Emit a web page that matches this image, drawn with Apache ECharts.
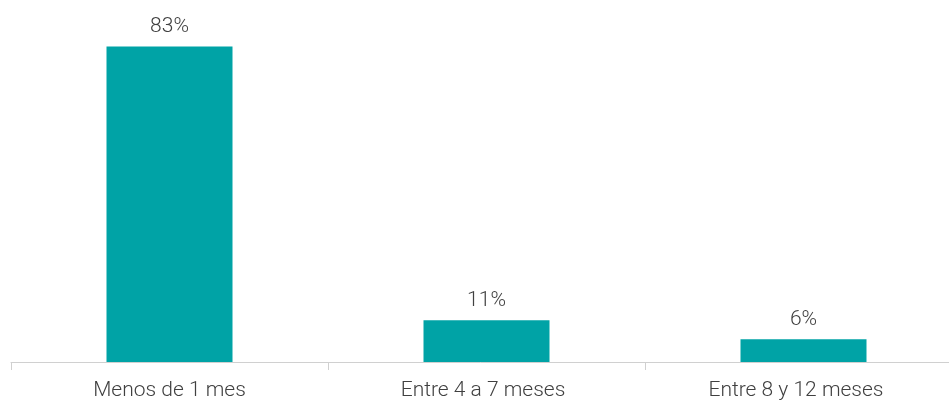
<!DOCTYPE html>
<html>
<head>
<meta charset="utf-8">
<script src="https://cdn.jsdelivr.net/npm/echarts@6/dist/echarts.min.js"></script>
<style>
  html, body { margin: 0; padding: 0; background: #fff; }
  #chart { width: 949px; height: 401px; }
</style>
</head>
<body>
<div id="chart"></div>
<script>
  // categorias y valores (%)
  const categories = ['Menos de 1 mes', 'Entre 4 a 7 meses', 'Entre 8 y 12 meses'];
  const values = [83, 11, 6];

  const labelFont = { fontFamily: 'Roboto', fontWeight: 300, fontSize: 21, color: '#404040' };

  const chart = echarts.init(document.getElementById('chart'));
  const option = {
    animation: false,
    grid: { left: 11, width: 951, top: 20, height: 342, containLabel: false, outerBoundsMode: 'none' },
    xAxis: {
      type: 'category',
      data: categories,
      axisLine: { lineStyle: { color: '#d0d0d0', width: 1 } },
      axisTick: { show: true, length: 8, lineStyle: { color: '#d0d0d0' } },
      axisLabel: Object.assign({
        margin: 18,
        formatter: (v, i) => '{c' + i + '|' + v + '}',
        rich: {
          c0: Object.assign({}, labelFont),
          c1: Object.assign({ padding: [0, 7, 0, 0] }, labelFont),
          c2: Object.assign({ padding: [0, 15, 0, 0] }, labelFont)
        }
      }, labelFont)
    },
    yAxis: {
      type: 'value',
      min: 0,
      max: 90,
      show: false,
      splitLine: { show: false }
    },
    series: [{
      type: 'bar',
      data: values,
      barWidth: 126,
      itemStyle: { color: '#00A3A6' },
      label: Object.assign({
        show: true,
        position: 'top',
        distance: 9,
        formatter: '{c}%'
      }, labelFont)
    }]
  };
  chart.setOption(option);
</script>
</body>
</html>
